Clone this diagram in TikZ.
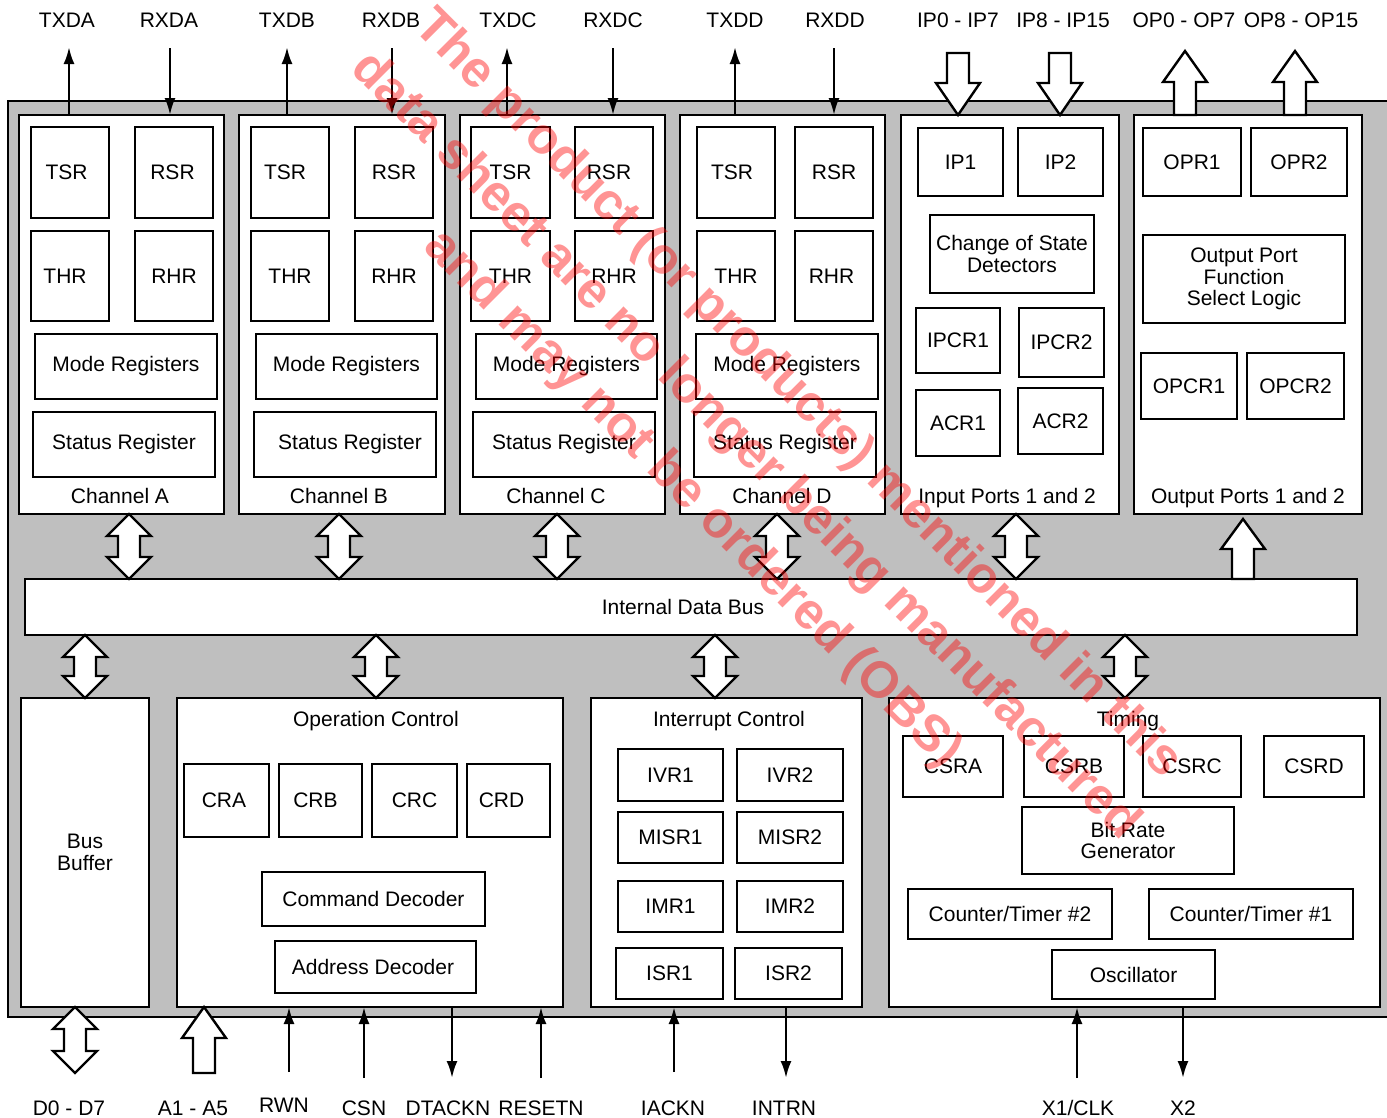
\documentclass[tikz,border=0pt]{standalone}
\usepackage{fontspec}
\setmainfont{Liberation Sans}
\usetikzlibrary{arrows.meta,calc}
\definecolor{bg}{RGB}{191,191,191}
\newcommand\dfont{\fontsize{21}{21.5}\selectfont}
\newcommand\bx[7][]{\node[box,#1,minimum width={(#5-#3)*1pt},minimum height={(#6-#4)*1pt}] (#2) at ({(#3+#5)/2},{(#4+#6)/2}) {#7};}
% hollow single arrow: tip, base, signed head length (canvas)
\newcommand\harrow[3]{\draw[fat] let \p1=(#1), \p2=(#2) in (\x1,\y1) -- (\x1+22pt,\y1+#3) -- (\x1+11pt,\y1+#3) -- (\x1+11pt,\y2) -- (\x1-11pt,\y2) -- (\x1-11pt,\y1+#3) -- (\x1-22pt,\y1+#3) -- cycle;}
% hollow double arrow: top end, bottom end
\newcommand\darrow[2]{\draw[fat] let \p1=(#1), \p2=(#2) in (\x1,\y1) -- (\x1+22pt,\y1-22pt) -- (\x1+11pt,\y1-22pt) -- (\x1+11pt,\y2+22pt) -- (\x1+22pt,\y2+22pt) -- (\x1,\y2) -- (\x1-22pt,\y2+22pt) -- (\x1-11pt,\y2+22pt) -- (\x1-11pt,\y1-22pt) -- (\x1-22pt,\y1-22pt) -- cycle;}
\begin{document}
\begin{tikzpicture}[x=1pt,y=-1pt,
  box/.style={draw=black,line width=2.6pt,fill=white,inner sep=0pt,outer sep=0pt,align=center,font=\dfont},
  lbl/.style={inner sep=0pt,font=\dfont,anchor=base},
  sig/.style={line width=2.5pt,-{Latex[length=17pt,width=11pt]}},
  fat/.style={draw=black,line width=2.4pt,fill=white,line join=miter},
  wm/.style={text=red,text opacity=0.42,font=\bfseries\fontsize{51}{74}\selectfont,align=center,inner sep=0pt}]
\useasboundingbox (0,0) rectangle (1387,1117);
\bx[fill=bg]{chip}{8}{101}{1400}{1017}{}
% channel blocks
\bx{chA}{19}{115}{224}{514}{}
\bx{chB}{239}{115}{445}{514}{}
\bx{chC}{460}{115}{665}{514}{}
\bx{chD}{680}{115}{885}{514}{}
\bx{inp}{901}{115}{1119}{514}{}
\bx{outp}{1134}{115}{1362}{514}{}
% channel A
\bx{tsrA}{31}{127}{109}{218}{TSR\hspace*{7pt}}
\bx{rsrA}{135}{127}{213}{218}{RSR\hspace*{3pt}}
\bx{thrA}{31}{231}{109}{321}{THR\hspace*{10pt}}
\bx{rhrA}{135}{231}{213}{321}{RHR}
\bx{modeA}{35}{334}{217}{399}{Mode Registers}
\bx{statA}{33}{412}{215}{477}{Status Register}
\node[lbl] (labA) at (120,503) {Channel A};
% channel B
\bx{tsrB}{251}{127}{329}{218}{TSR\hspace*{10pt}}
\bx{rsrB}{355}{127}{433}{218}{RSR}
\bx{thrB}{251}{231}{329}{321}{THR}
\bx{rhrB}{355}{231}{433}{321}{RHR}
\bx{modeB}{256}{334}{437}{399}{Mode Registers}
\bx{statB}{254}{412}{436}{477}{\hspace*{10pt}Status Register}
\node[lbl] (labB) at (339,503) {Channel B};
% channel C
\bx{tsrC}{471}{127}{550}{218}{TSR}
\bx{rsrC}{575}{127}{653}{218}{RSR\hspace*{10pt}}
\bx{thrC}{471}{231}{550}{321}{THR}
\bx{rhrC}{575}{231}{653}{321}{RHR}
\bx{modeC}{476}{334}{657}{399}{Mode Registers}
\bx{statC}{473}{412}{655}{477}{Status Register}
\node[lbl] (labC) at (556,503) {Channel C};
% channel D
\bx{tsrD}{697}{127}{775}{218}{TSR\hspace*{8pt}}
\bx{rsrD}{795}{127}{873}{218}{RSR}
\bx{thrD}{697}{231}{775}{321}{THR}
\bx{rhrD}{795}{231}{873}{321}{RHR\hspace*{5pt}}
\bx{modeD}{696}{334}{878}{399}{Mode Registers}
\bx{statD}{694}{412}{876}{477}{Status Register}
\node[lbl] (labD) at (782,503) {Channel D};
% input ports
\bx{ipa}{918}{128}{1003}{196}{IP1}
\bx{ipb}{1018}{128}{1103}{196}{IP2}
\bx{cosd}{930}{215}{1094}{293}{Change of State\\Detectors}
\bx{ipcra}{916}{308}{1000}{373}{IPCR1}
\bx{ipcrb}{1019}{308}{1104}{377}{IPCR2}
\bx{acra}{916}{390}{1000}{456}{ACR1}
\bx{acrb}{1018}{388}{1103}{454}{ACR2}
\node[lbl] (labIn) at (1007,503) {Input Ports 1 and 2};
% output ports
\bx{opra}{1143}{128}{1241}{196}{OPR1}
\bx{oprb}{1251}{128}{1347}{196}{OPR2}
\bx{opfs}{1143}{235}{1345}{323}{Output Port\\Function\\Select Logic}
\bx{opcra}{1141}{353}{1237}{419}{OPCR1}
\bx{opcrb}{1247}{353}{1344}{419}{OPCR2}
\node[lbl] (labOut) at (1248,503) {Output Ports 1 and 2};
% internal bus
\bx{bus}{25}{579}{1357}{635}{Internal Data Bus\hspace*{16pt}}
% bottom blocks
\bx{bbuf}{21}{698}{149}{1007}{Bus\\Buffer}
\bx{opc}{177}{698}{563}{1007}{}
\node[lbl] (labOpc) at (376,726) {Operation Control};
\bx{cra}{184}{764}{269}{837}{CRA\hspace*{5pt}}
\bx{crb}{279}{764}{362}{837}{CRB\hspace*{10pt}}
\bx{crc}{372}{764}{457}{837}{CRC}
\bx{crd}{467}{764}{550}{837}{CRD\hspace*{14pt}}
\bx{cmdd}{262}{872}{485}{926}{Command Decoder}
\bx{addd}{275}{941}{476}{993}{Address Decoder\hspace*{5pt}}
\bx{intc}{591}{698}{862}{1007}{}
\node[lbl] (labInt) at (729,726) {Interrupt Control};
\bx{ivra}{618}{749}{723}{801}{IVR1}
\bx{ivrb}{737}{749}{843}{801}{IVR2}
\bx{misra}{618}{812}{723}{863}{MISR1}
\bx{misrb}{737}{812}{843}{863}{MISR2}
\bx{imra}{618}{881}{723}{932}{IMR1}
\bx{imrb}{737}{881}{843}{932}{IMR2}
\bx{isra}{616}{948}{723}{999}{ISR1}
\bx{isrb}{735}{948}{842}{999}{ISR2}
\bx{tim}{889}{698}{1380}{1007}{}
\node[lbl] (labTim) at (1128,726) {Timing};
\bx{csra}{903}{736}{1003}{797}{CSRA}
\bx{csrb}{1024}{736}{1124}{797}{CSRB}
\bx{csrc}{1143}{736}{1241}{797}{CSRC}
\bx{csrd}{1264}{736}{1364}{797}{CSRD}
\bx{brg}{1022}{807}{1234}{874}{Bit Rate\\Generator}
\bx{ctb}{908}{889}{1112}{939}{Counter/Timer \#2}
\bx{cta}{1149}{889}{1353}{939}{Counter/Timer \#1}
\bx{osc}{1052}{950}{1215}{999}{Oscillator}
% internal bus arrows
\darrow{129,0 |- chA.south}{129,0 |- bus.north}
\darrow{339,0 |- chB.south}{339,0 |- bus.north}
\darrow{557,0 |- chC.south}{557,0 |- bus.north}
\darrow{777,0 |- chD.south}{777,0 |- bus.north}
\darrow{1016,0 |- inp.south}{1016,0 |- bus.north}
\coordinate (optip) at (1243,519);
\harrow{optip}{optip |- bus.north}{-30pt}
\darrow{85,0 |- bus.south}{85,0 |- bbuf.north}
\darrow{376,0 |- bus.south}{376,0 |- opc.north}
\darrow{715,0 |- bus.south}{715,0 |- intc.north}
\darrow{1125,0 |- bus.south}{1125,0 |- tim.north}
% top signals
\node[lbl] (ltxda) at (67,27) {TXDA};
\node[lbl] (lrxda) at (169,27) {RXDA};
\node[lbl] (ltxdb) at (287,27) {TXDB};
\node[lbl] (lrxdb) at (391,27) {RXDB};
\node[lbl] (ltxdc) at (508,27) {TXDC};
\node[lbl] (lrxdc) at (613,27) {RXDC};
\node[lbl] (ltxdd) at (735,27) {TXDD};
\node[lbl] (lrxdd) at (835,27) {RXDD};
\node[lbl] (lipa) at (958,27) {IP0 - IP7};
\node[lbl] (lipb) at (1063,27) {IP8 - IP15};
\node[lbl] (lopa) at (1184,27) {OP0 - OP7};
\node[lbl] (lopb) at (1301,27) {OP8 - OP15};
\coordinate (txda) at (69,47);
\coordinate (rxda) at (170,48);
\coordinate (txdb) at (287,47);
\coordinate (rxdb) at (392,48);
\coordinate (txdc) at (507,47);
\coordinate (rxdc) at (613,48);
\coordinate (txdd) at (735,47);
\coordinate (rxdd) at (834,48);
\draw[sig] (txda |- chA.north) -- (txda);
\draw[sig] (rxda) -- (rxda |- chA.north);
\draw[sig] (txdb |- chB.north) -- (txdb);
\draw[sig] (rxdb) -- (rxdb |- chB.north);
\draw[sig] (txdc |- chC.north) -- (txdc);
\draw[sig] (rxdc) -- (rxdc |- chC.north);
\draw[sig] (txdd |- chD.north) -- (txdd);
\draw[sig] (rxdd) -- (rxdd |- chD.north);
\coordinate (ipain) at (958,53);
\coordinate (ipbin) at (1060,53);
\coordinate (opaout) at (1185,51);
\coordinate (opbout) at (1295,51);
\harrow{ipain |- inp.north}{ipain}{32pt}
\harrow{ipbin |- inp.north}{ipbin}{32pt}
\harrow{opaout}{opaout |- outp.north}{-31pt}
\harrow{opbout}{opbout |- outp.north}{-31pt}
% bottom signals
\coordinate (dbus) at (75,1073);
\coordinate (abus) at (204,1073);
\coordinate (rwn) at (289,1072);
\coordinate (csn) at (364,1078);
\coordinate (dtackn) at (452,1078);
\coordinate (resetn) at (541,1078);
\coordinate (iackn) at (674,1072);
\coordinate (intrn) at (786,1078);
\coordinate (xclk) at (1077,1078);
\coordinate (xtwo) at (1183,1078);
\darrow{dbus |- bbuf.south}{dbus}
\harrow{abus |- opc.south}{abus}{-31pt}
\draw[sig] (rwn) -- (rwn |- opc.south);
\draw[sig] (csn) -- (csn |- opc.south);
\draw[sig] (dtackn |- opc.south) -- (dtackn);
\draw[sig] (resetn) -- (resetn |- opc.south);
\draw[sig] (iackn) -- (iackn |- intc.south);
\draw[sig] (intrn |- intc.south) -- (intrn);
\draw[sig] (xclk) -- (xclk |- tim.south);
\draw[sig] (xtwo |- tim.south) -- (xtwo);
\node[lbl] (ldbus) at (69,1115) {D0 - D7};
\node[lbl] (labus) at (193,1115) {A1 - A5};
\node[lbl] (lrwn) at (284,1112) {RWN};
\node[lbl] (lcsn) at (364,1115) {CSN};
\node[lbl] (ldtackn) at (448,1115) {DTACKN};
\node[lbl] (lresetn) at (541,1115) {RESETN};
\node[lbl] (liackn) at (673,1115) {IACKN};
\node[lbl] (lintrn) at (784,1115) {INTRN};
\node[lbl] (lxclk) at (1078,1115) {X1/CLK};
\node[lbl] (lxtwo) at (1183,1115) {X2};
% watermark
\node[wm,rotate=-45] (wmark) at (745,447) {The product (or products) mentioned in this\\data sheet are no longer being manufactured\\and may not be ordered (OBS)};
\end{tikzpicture}
\end{document}
